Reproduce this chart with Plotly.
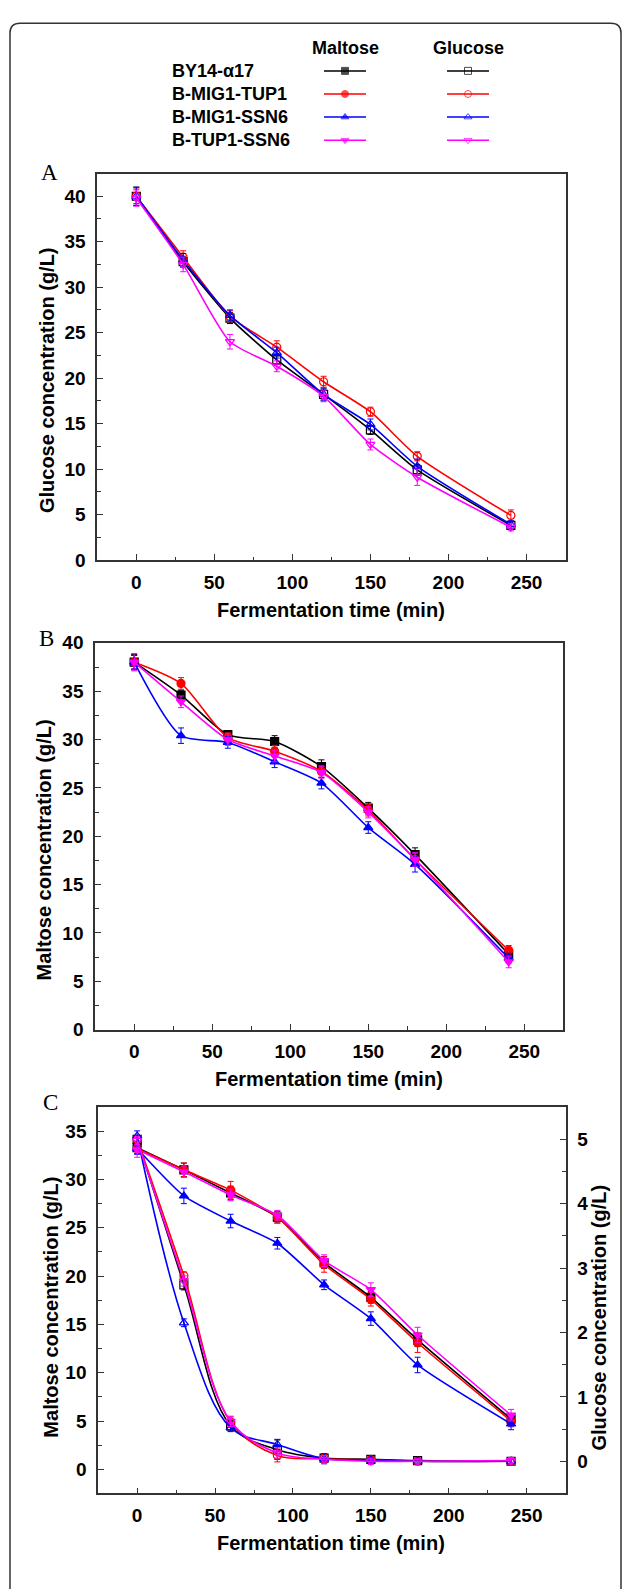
import plotly.graph_objects as go

W, H = 628, 1591


def px(x):
    return x / W


def py(y):
    return 1 - y / H


# ---------------- data ----------------
time = [0, 30, 60, 90, 120, 150, 180, 240]
strains = ["BY14-α17", "B-MIG1-TUP1", "B-MIG1-SSN6", "B-TUP1-SSN6"]
colors = ["#000000", "#ff0000", "#0000ff", "#ff00ff"]
symbols = ["square", "circle", "triangle-up", "triangle-down"]
substances = ["Maltose", "Glucose"]

# Panel A: glucose concentration (g/L), glucose medium
a_glc_by14 = [40.0, 32.8, 26.6, 22.0, 18.2, 14.3, 9.9, 3.8]
a_glc_mig1_tup1 = [40.0, 33.3, 26.8, 23.4, 19.6, 16.3, 11.4, 4.9]
a_glc_mig1_ssn6 = [40.0, 33.0, 26.9, 22.8, 18.2, 14.9, 10.3, 3.9]
a_glc_tup1_ssn6 = [39.8, 32.5, 24.0, 21.3, 18.0, 12.7, 9.1, 3.6]
a_err_by14 = [1.0, 0.6, 0.6, 0.5, 0.6, 0.5, 0.6, 0.4]
a_err_mig1_tup1 = [0.8, 0.7, 0.6, 0.7, 0.6, 0.5, 0.5, 0.6]
a_err_mig1_ssn6 = [1.0, 0.7, 0.6, 0.6, 0.7, 0.6, 0.8, 0.4]
a_err_tup1_ssn6 = [0.9, 0.8, 0.8, 0.6, 0.6, 0.6, 0.9, 0.4]

# Panel B: maltose concentration (g/L), maltose medium
b_mal_by14 = [38.0, 34.6, 30.5, 29.8, 27.2, 22.9, 18.1, 7.8]
b_mal_mig1_tup1 = [38.0, 35.8, 30.2, 28.8, 26.7, 22.7, 17.6, 8.2]
b_mal_mig1_ssn6 = [38.0, 30.4, 29.7, 27.7, 25.5, 20.9, 17.1, 7.4]
b_mal_tup1_ssn6 = [38.0, 33.9, 30.0, 28.3, 26.6, 22.5, 17.6, 7.0]
b_err_by14 = [0.8, 0.5, 0.4, 0.6, 0.7, 0.6, 0.7, 0.5]
b_err_mig1_tup1 = [0.7, 0.6, 0.5, 0.6, 0.6, 0.6, 0.6, 0.5]
b_err_mig1_ssn6 = [0.7, 0.8, 0.6, 0.6, 0.6, 0.6, 0.8, 0.5]
b_err_tup1_ssn6 = [0.9, 0.6, 0.6, 0.6, 0.6, 0.6, 0.7, 0.6]

# Panel C: maltose (left axis, g/L) in mixed medium
c_mal_by14 = [33.3, 31.0, 28.6, 26.1, 21.4, 17.8, 13.4, 5.2]
c_mal_mig1_tup1 = [33.2, 31.0, 28.9, 26.1, 21.2, 17.6, 13.1, 5.0]
c_mal_mig1_ssn6 = [33.2, 28.3, 25.7, 23.4, 19.1, 15.6, 10.8, 4.7]
c_mal_tup1_ssn6 = [33.1, 30.8, 28.4, 26.3, 21.6, 18.6, 13.9, 5.6]
c_mal_err_by14 = [0.6, 0.7, 0.7, 0.6, 0.6, 0.6, 0.7, 0.5]
c_mal_err_mig1_tup1 = [0.5, 0.7, 0.9, 0.6, 0.8, 0.7, 1.0, 0.6]
c_mal_err_mig1_ssn6 = [0.6, 0.8, 0.7, 0.6, 0.5, 0.7, 0.8, 0.6]
c_mal_err_tup1_ssn6 = [0.8, 0.6, 0.6, 0.5, 0.6, 0.7, 0.8, 0.6]

# Panel C: glucose (right axis, g/L) in mixed medium
c_glc_by14 = [5.00, 2.74, 0.55, 0.18, 0.05, 0.03, 0.01, 0.00]
c_glc_mig1_tup1 = [5.00, 2.88, 0.61, 0.09, 0.04, 0.02, 0.00, 0.00]
c_glc_mig1_ssn6 = [5.05, 2.15, 0.52, 0.26, 0.04, 0.02, 0.00, 0.00]
c_glc_tup1_ssn6 = [4.98, 2.80, 0.62, 0.13, 0.03, 0.00, 0.00, 0.01]
c_glc_err_by14 = [0.06, 0.08, 0.08, 0.15, 0.06, 0.05, 0.04, 0.04]
c_glc_err_mig1_tup1 = [0.06, 0.06, 0.08, 0.10, 0.06, 0.04, 0.04, 0.04]
c_glc_err_mig1_ssn6 = [0.08, 0.06, 0.06, 0.08, 0.08, 0.04, 0.04, 0.04]
c_glc_err_tup1_ssn6 = [0.06, 0.08, 0.08, 0.08, 0.06, 0.05, 0.04, 0.05]

a_series = [a_glc_by14, a_glc_mig1_tup1, a_glc_mig1_ssn6, a_glc_tup1_ssn6]
a_errs = [a_err_by14, a_err_mig1_tup1, a_err_mig1_ssn6, a_err_tup1_ssn6]
b_series = [b_mal_by14, b_mal_mig1_tup1, b_mal_mig1_ssn6, b_mal_tup1_ssn6]
b_errs = [b_err_by14, b_err_mig1_tup1, b_err_mig1_ssn6, b_err_tup1_ssn6]
cm_series = [c_mal_by14, c_mal_mig1_tup1, c_mal_mig1_ssn6, c_mal_tup1_ssn6]
cm_errs = [c_mal_err_by14, c_mal_err_mig1_tup1, c_mal_err_mig1_ssn6, c_mal_err_tup1_ssn6]
cg_series = [c_glc_by14, c_glc_mig1_tup1, c_glc_mig1_ssn6, c_glc_tup1_ssn6]
cg_errs = [c_glc_err_by14, c_glc_err_mig1_tup1, c_glc_err_mig1_ssn6, c_glc_err_tup1_ssn6]

# ---------------- styles ----------------
SANS = "Liberation Sans, Arial, sans-serif"
SERIF = "Liberation Serif, Times New Roman, serif"
AX = "#333333"
TICKFONT = dict(family=SANS, size=19, color="#000000", weight="bold")

fig = go.Figure()


def add_series(xa, ya, ys, errs, filled, smoothing):
    for i in range(4):
        sym = symbols[i] if filled else symbols[i] + "-open"
        fig.add_trace(go.Scatter(
            x=time, y=ys[i], xaxis=xa, yaxis=ya, mode="lines+markers",
            line=dict(color=colors[i], width=1.6, shape="spline", smoothing=smoothing),
            marker=dict(symbol=sym, size=8, color=colors[i],
                        line=dict(color=colors[i], width=1.2)),
            error_y=dict(type="data", array=errs[i], visible=True,
                         color=colors[i], thickness=1, width=3),
            showlegend=False, hoverinfo="skip"))


add_series("x", "y", a_series, a_errs, False, 0.6)
add_series("x2", "y2", b_series, b_errs, True, 0.7)
add_series("x3", "y3", cm_series, cm_errs, True, 0.6)
add_series("x3", "y4", cg_series, cg_errs, False, 1.0)

# ---------------- manual legend ----------------
LX0, LX1 = 300, 512  # px extent of legend axis
col_px = [345, 468]
unit = col_px[1] - col_px[0]
half = 21 / unit
row_px = [61.7, 85.1, 108.5, 131.9]
rstep = row_px[1] - row_px[0]
for i, s in enumerate(strains):
    for j, sub in enumerate(substances):
        sym = symbols[i] if j == 0 else symbols[i] + "-open"
        fig.add_trace(go.Scatter(
            x=[j - half, j, j + half], y=[i, i, i], xaxis="x5", yaxis="y5",
            mode="lines+markers",
            line=dict(color=colors[i], width=1.5),
            marker=dict(symbol=sym, size=[0, 7, 0], color=colors[i],
                        line=dict(color=colors[i], width=1)),
            showlegend=False, hoverinfo="skip"))


def xaxis(x0, x1, y_anchor):
    return dict(domain=[px(x0), px(x1)], anchor=y_anchor, range=[-25, 275],
                tick0=0, dtick=50, ticks="inside", ticklen=6, tickwidth=1.4,
                tickcolor=AX, showline=True, linecolor=AX, linewidth=1.8,
                mirror=True, showgrid=False, zeroline=False, tickfont=TICKFONT,
                ticklabelstandoff=4,
                minor=dict(ticks="inside", ticklen=3.5, tickwidth=1.2,
                           tickcolor=AX, dtick=25, tick0=0))


def yaxis(y_top, y_bot, x_anchor, rng, dtick, minor_dtick, mirror=True, side="left",
          overlaying=None):
    d = dict(domain=[py(y_bot), py(y_top)], anchor=x_anchor, range=rng,
             tick0=0, dtick=dtick, ticks="inside", ticklen=6, tickwidth=1.4,
             tickcolor=AX, showline=True, linecolor=AX, linewidth=1.8,
             mirror=mirror, showgrid=False, zeroline=False, tickfont=TICKFONT,
             side=side, ticklabelstandoff=6,
             minor=dict(ticks="inside", ticklen=3.5, tickwidth=1.2,
                        tickcolor=AX, dtick=minor_dtick, tick0=0))
    if overlaying:
        d["overlaying"] = overlaying
    return d


fig.update_layout(
    width=W, height=H, margin=dict(l=0, r=0, t=0, b=0),
    paper_bgcolor="white", plot_bgcolor="white", showlegend=False,
    xaxis=xaxis(97.3, 565.5, "y"),
    yaxis=yaxis(165.7, 557.3, "x", [0, 42.5], 5, 2.5),
    xaxis2=xaxis(95.2, 563.3, "y2"),
    yaxis2=yaxis(641.3, 1033.3, "x2", [0, 40], 5, 2.5),
    xaxis3=xaxis(98.2, 565.6, "y3"),
    yaxis3=yaxis(1111.7, 1503.3, "x3", [-2.5, 37.5], 5, 2.5),
    yaxis4=yaxis(1111.7, 1503.3, "x3", [-0.5, 5.5], 1, 0.5, mirror=False,
                 side="right", overlaying="y3"),
    xaxis5=dict(domain=[px(LX0), px(LX1)], anchor="y5",
                range=[(LX0 - col_px[0]) / unit, (LX1 - col_px[0]) / unit],
                visible=False),
    yaxis5=dict(domain=[py(row_px[-1] + 12), py(row_px[0] - 12)], anchor="x5",
                range=[(row_px[-1] + 12 - row_px[0]) / rstep, -12 / rstep],
                visible=False),
)

ann = []
TF = dict(family=SANS, size=20, color="#000000", weight="bold")
LF = dict(family=SANS, size=18, color="#000000", weight="bold")
for j, sub in enumerate(substances):
    ann.append(dict(text=sub, x=j, xref="x5", y=py(38.3), yref="paper",
                    showarrow=False, font=LF, xanchor="center", yanchor="middle"))
for i, s in enumerate(strains):
    ann.append(dict(text=s, x=px(170), xref="paper", y=i, yref="y5",
                    showarrow=False, font=LF, xanchor="left", yanchor="middle"))

# axis titles
for (xc, yc, t) in [(331, 608.3, "Fermentation time (min)"),
                    (329, 1083.3, "Fermentation time (min)"),
                    (331, 1553.3, "Fermentation time (min)")]:
    ann.append(dict(text=t, x=px(xc), y=py(yc), xref="paper", yref="paper",
                    showarrow=False, font=TF, xanchor="center", yanchor="middle"))
for (xc, yc, t) in [(47, 375, "Glucose concentration (g/L)"),
                    (44, 851.7, "Maltose concentration (g/L)"),
                    (51, 1315, "Maltose concentration (g/L)"),
                    (599, 1325, "Glucose concentration (g/L)")]:
    ann.append(dict(text=t, x=px(xc), y=py(yc), xref="paper", yref="paper",
                    showarrow=False, font=TF, textangle=-90,
                    xanchor="center", yanchor="middle"))
# panel letters
for (xc, yc, t) in [(49, 165, "A"), (46, 636.7, "B"), (50, 1107, "C")]:
    ann.append(dict(text=t, x=px(xc), y=py(yc), xref="paper", yref="paper",
                    showarrow=False, font=dict(family=SERIF, size=23, color="#000000"),
                    xanchor="center", yanchor="middle"))
fig.update_layout(annotations=ann)

# outer rounded frame
r = 10
L, T, R, B = 10, 13.5, 621, 1600
path = (f"M {px(L)},{py(B)} L {px(L)},{py(T + r)} Q {px(L)},{py(T)} {px(L + r)},{py(T)} "
        f"L {px(R - r)},{py(T)} Q {px(R)},{py(T)} {px(R)},{py(T + r)} L {px(R)},{py(B)}")
fig.add_shape(type="path", path=path, xref="paper", yref="paper",
              line=dict(color="#333333", width=1.5))

fig.write_html("out.html",
               config={"displayModeBar": False},
               post_script="document.body.style.margin='0';"
                           "document.body.style.overflow='hidden';")
